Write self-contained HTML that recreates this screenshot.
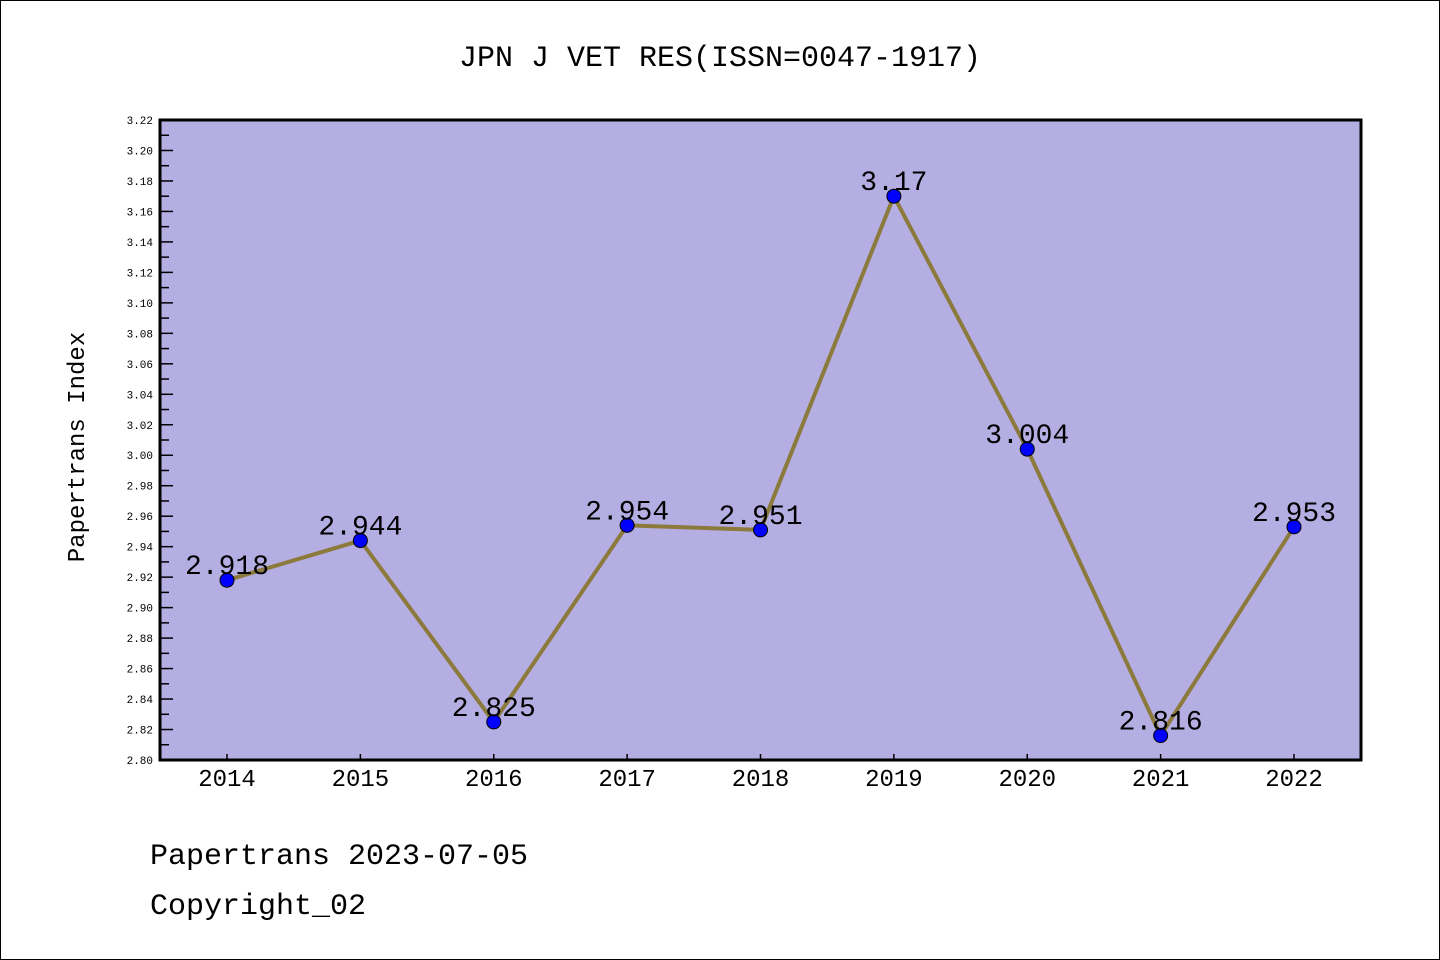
<!DOCTYPE html>
<html><head><meta charset="utf-8"><style>
html,body{margin:0;padding:0;background:#fff}
svg{display:block}
text{font-family:"Liberation Mono","DejaVu Sans Mono",monospace}
</style></head><body>
<svg id="chart" width="1440" height="960" xmlns="http://www.w3.org/2000/svg">
<rect x="0.5" y="0.5" width="1439" height="959" fill="#fff" stroke="#000"/>
<text x="720" y="66" font-size="30" text-anchor="middle">JPN J VET RES(ISSN=0047-1917)</text>
<rect x="160" y="120" width="1201" height="640" fill="#b4aee2"/>
<g id="axes"></g>
<g id="series"></g>
<rect x="160" y="120" width="1201" height="640" fill="none" stroke="#000" stroke-width="3"/>
<text transform="translate(84,447) rotate(-90)" font-size="24" text-anchor="middle">Papertrans Index</text>
<text x="150" y="864" font-size="30">Papertrans 2023-07-05</text>
<text x="150" y="914" font-size="30">Copyright_02</text>
</svg>
<script>
const years = ["2014","2015","2016","2017","2018","2019","2020","2021","2022"];
const values = [2.918,2.944,2.825,2.954,2.951,3.17,3.004,2.816,2.953];
const labels = ["2.918","2.944","2.825","2.954","2.951","3.17","3.004","2.816","2.953"];
const yMin = 2.80, yMax = 3.22;
const NS = "http://www.w3.org/2000/svg";
function yPos(v){return 760 - (v - yMin) / (yMax - yMin) * 640;}
function xPos(i){return 227 + i * (1294 - 227) / (years.length - 1);}
function mk(tag, attrs, parent){const e=document.createElementNS(NS,tag);for(const k in attrs)e.setAttribute(k,attrs[k]);parent.appendChild(e);return e;}
const axes=document.getElementById('axes'), series=document.getElementById('series');
for(let k=0;k<=42;k++){
  const v=yMin+k*0.01, y=yPos(v), major=k%2===0;
  const t=mk('line',{x1:160,x2:major?173:169,y1:y,y2:y,stroke:'#000','stroke-width':1.5},axes);
  
  
  if(major){
    const l=mk('text',{x:153,y:y+4,'font-size':11,'text-anchor':'end'},axes);
    
    
    l.textContent=v.toFixed(2);
  }
}
years.forEach((yr,i)=>{
  const x=xPos(i);
  const t=mk('line',{x1:x,x2:x,y1:760,y2:754,stroke:'#000','stroke-width':1.5},axes);
  
  
  const l=mk('text',{x:x,y:786,'font-size':24,'text-anchor':'middle'},axes);
  
  
  l.textContent=yr;
});
const pts=values.map((v,i)=>xPos(i)+','+yPos(v)).join(' ');
const line=mk('polyline',{points:pts,fill:'none',stroke:'#8c7a3c','stroke-width':4,'stroke-linejoin':'round'},series);


values.forEach((v,i)=>{
  const c=mk('circle',{cx:xPos(i),cy:yPos(v),r:7,fill:'#0000ff',stroke:'#000','stroke-width':1},series);
  
  
  const t=mk('text',{x:xPos(i),y:yPos(v)-6,'font-size':28,'text-anchor':'middle'},series);
  
  
  t.textContent=labels[i];
});
</script>
</body></html>
